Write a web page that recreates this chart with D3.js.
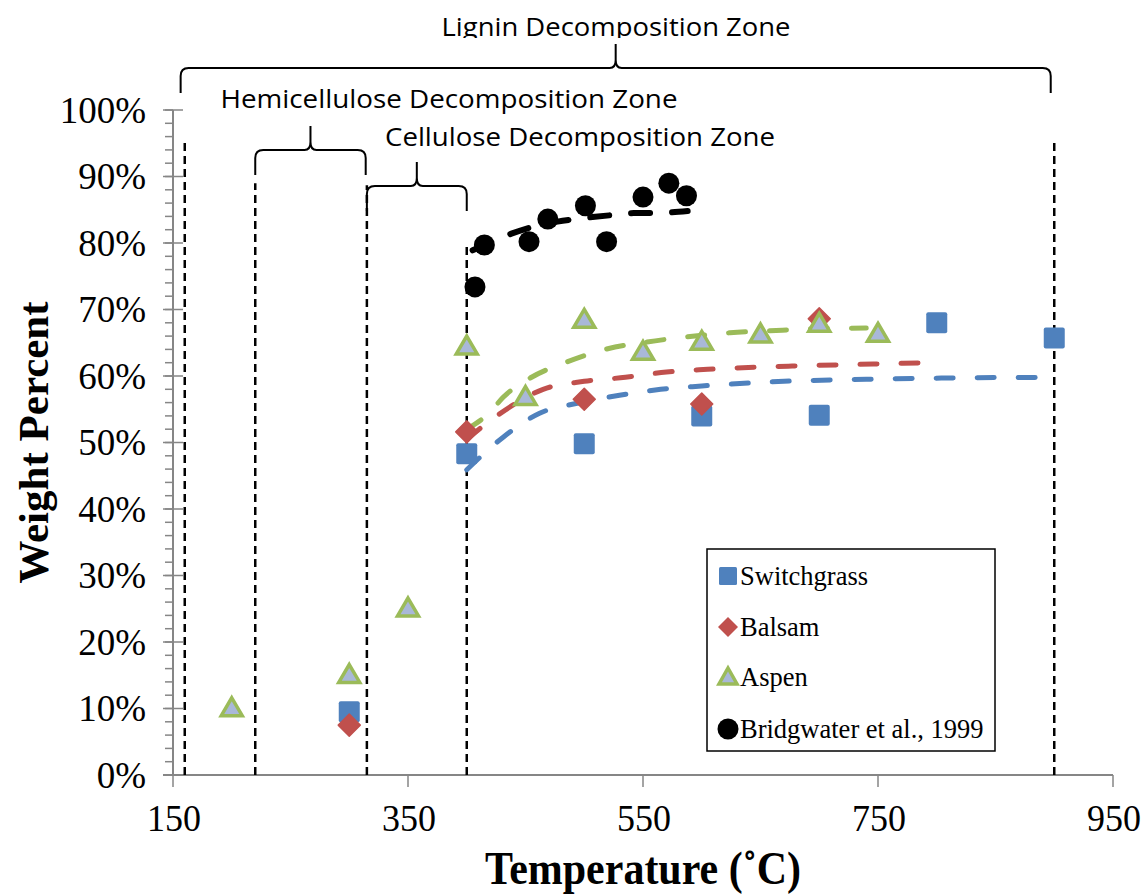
<!DOCTYPE html>
<html>
<head>
<meta charset="utf-8">
<script src="https://cdn.jsdelivr.net/npm/d3@7"></script>
<style>
  body { margin: 0; background: #fff; }
  svg { display: block; }
</style>
</head>
<body>
<svg id="chart"></svg>
<script>
// ---- data ----
const switchTemp = [300, 400, 500, 600, 700, 800, 900]
const switchPct = [0.095, 0.483, 0.498, 0.540, 0.541, 0.680, 0.657]

const balsamTemp = [300, 400, 500, 600, 700]
const balsamPct = [0.075, 0.516, 0.565, 0.558, 0.686]

const aspenTemp = [200, 300, 350, 400, 450, 500, 550, 600, 650, 700, 750]
const aspenPct = [0.10, 0.15, 0.25, 0.644, 0.568, 0.684, 0.636, 0.651, 0.662, 0.678, 0.663]

const bridgTemp = [407, 415, 453, 469, 501, 519, 550, 572, 587]
const bridgPct = [0.734, 0.797, 0.802, 0.836, 0.856, 0.802, 0.869, 0.890, 0.871]

// trend lines
const switchTrendTemp = [400, 431, 462, 494, 530, 565, 600, 670, 740, 810, 900]
const switchTrendPct = [0.459, 0.508, 0.544, 0.559, 0.571, 0.580, 0.585, 0.592, 0.595, 0.597, 0.598]
const balsamTrendTemp = [400, 428, 465, 500, 535, 570, 605, 677, 746, 790]
const balsamTrendPct = [0.505, 0.543, 0.580, 0.592, 0.598, 0.606, 0.610, 0.615, 0.618, 0.620]
const aspenTrendTemp = [400, 420, 431, 454, 485, 520, 553, 588, 624, 658, 695, 740]
const aspenTrendPct = [0.52, 0.546, 0.568, 0.597, 0.621, 0.641, 0.651, 0.659, 0.665, 0.668, 0.671, 0.672]
const bridgTrendTemp = [405, 438, 462, 488, 507, 524, 542, 559, 588]
const bridgTrendPct = [0.789, 0.814, 0.827, 0.835, 0.839, 0.842, 0.845, 0.845, 0.848]

// zone boundaries (dashed lines) and how high they reach
const zoneLineTemp = [160, 220, 315, 400, 900]
const zoneLineTop = [0.952, 0.89, 0.887, 0.797, 0.952]

const xTicks = [150, 350, 550, 750, 950]
const yTicks = [0, 0.1, 0.2, 0.3, 0.4, 0.5, 0.6, 0.7, 0.8, 0.9, 1.0]

const legendNames = ["Switchgrass", "Balsam", "Aspen", "Bridgwater et al., 1999"]

// ---- setup ----
const width = 1141
const height = 894
const svg = d3.select('#chart')
    .attr('width', width)
    .attr('height', height)

const x = d3.scaleLinear().domain([150, 950]).range([173, 1113])
const y = d3.scaleLinear().domain([0, 1]).range([775, 110])

const axisGrey = '#868686'
const serif = '"Liberation Serif", "Times New Roman", serif'
const sans = '"Open Sans", "Noto Sans", sans-serif'

// y axis: minor ticks every 2%
const yMinor = d3.range(0, 1.0001, 0.02)
svg.append('g').selectAll('line')
    .data(yMinor)
    .join('line')
    .attr('x1', x(150) - 8).attr('x2', x(150))
    .attr('y1', d => y(d)).attr('y2', d => y(d))
    .attr('stroke', axisGrey).attr('stroke-width', 1.5)

svg.append('g').selectAll('line')
    .data(yTicks)
    .join('line')
    .attr('x1', x(150) - 10).attr('x2', x(150) + 10)
    .attr('y1', d => y(d)).attr('y2', d => y(d))
    .attr('stroke', axisGrey).attr('stroke-width', 1.5)

svg.append('line')
    .attr('x1', x(150)).attr('x2', x(150))
    .attr('y1', y(0) + 1).attr('y2', y(1))
    .attr('stroke', axisGrey).attr('stroke-width', 2)

svg.append('g').selectAll('text')
    .data(yTicks)
    .join('text')
    .attr('x', x(150) - 27)
    .attr('y', d => y(d))
    .attr('dy', '0.35em')
    .attr('text-anchor', 'end')
    .attr('font-family', serif)
    .attr('font-size', 37)
    .text(d => d3.format('.0%')(d))

// x axis
svg.append('line')
    .attr('x1', x(150) - 10).attr('x2', x(950))
    .attr('y1', y(0)).attr('y2', y(0))
    .attr('stroke', axisGrey).attr('stroke-width', 2)

svg.append('g').selectAll('line')
    .data(xTicks)
    .join('line')
    .attr('x1', d => x(d)).attr('x2', d => x(d))
    .attr('y1', y(0)).attr('y2', y(0) + 12)
    .attr('stroke', axisGrey).attr('stroke-width', 1.5)

svg.append('g').selectAll('text')
    .data(xTicks)
    .join('text')
    .attr('transform', d => `translate(${x(d) + 1},831) scale(1,1.08)`)
    .attr('text-anchor', 'middle')
    .attr('font-family', serif)
    .attr('font-size', 36)
    .text(d => d)

// axis titles
svg.append('text')
    .attr('transform', `translate(48,${(y(0) + y(1)) / 2}) rotate(-90)`)
    .attr('text-anchor', 'middle')
    .attr('font-family', serif)
    .attr('font-weight', 'bold')
    .attr('font-size', 43)
    .text('Weight Percent')

svg.append('text')
    .attr('transform', `translate(${(x(150) + x(950)) / 2},884) scale(1,1.12)`)
    .attr('text-anchor', 'middle')
    .attr('font-family', serif)
    .attr('font-weight', 'bold')
    .attr('font-size', 42)
    .text('Temperature (˚C)')

// zone dashed lines
svg.append('g').selectAll('line')
    .data(zoneLineTemp)
    .join('line')
    .attr('x1', d => x(d)).attr('x2', d => x(d))
    .attr('y1', y(0)).attr('y2', (d, i) => y(zoneLineTop[i]))
    .attr('stroke', '#000').attr('stroke-width', 2.5)
    .attr('stroke-dasharray', '8,5')

// curly braces above the plot
function bracePath(x0, x1, yb, drop, tip) {
    const xm = (x0 + x1) / 2
    const r = 8
    return `M${x0},${yb + drop} L${x0},${yb + r} Q${x0},${yb} ${x0 + r},${yb}` +
        ` L${xm - 6},${yb} Q${xm},${yb} ${xm},${yb - 8} L${xm},${yb - tip}` +
        ` M${xm},${yb - 8} Q${xm},${yb} ${xm + 6},${yb}` +
        ` L${x1 - r},${yb} Q${x1},${yb} ${x1},${yb + r} L${x1},${yb + drop}`
}

const braces = [
    { from: 156.5, to: 897, yb: 68, label: 'Lignin Decomposition Zone', ty: 36, tx: 616, tw: 349 },
    { from: 220, to: 314, yb: 150, label: 'Hemicellulose Decomposition Zone', ty: 108, tx: 449, tw: 457 },
    { from: 315, to: 400, yb: 186, label: 'Cellulose Decomposition Zone', ty: 146, tx: 580, tw: 390 }
]

// the top label is cut off just under its baseline in the original
svg.append('clipPath').attr('id', 'topClip')
    .append('rect').attr('x', 0).attr('y', 0).attr('width', width).attr('height', 38)

svg.append('g').selectAll('path')
    .data(braces)
    .join('path')
    .attr('d', d => bracePath(x(d.from), x(d.to), d.yb, 25, 24))
    .attr('fill', 'none')
    .attr('stroke', '#000')
    .attr('stroke-width', 2)

svg.append('g').selectAll('text')
    .data(braces)
    .join('text')
    .attr('x', d => d.tx)
    .attr('y', d => d.ty)
    .attr('clip-path', (d, i) => i === 0 ? 'url(#topClip)' : null)
    .attr('text-anchor', 'middle')
    .attr('font-family', sans)
    .attr('font-size', 25)
    .attr('textLength', d => d.tw)
    .attr('lengthAdjust', 'spacingAndGlyphs')
    .text(d => d.label)

// trend lines
const line = d3.line()
    .x(d => x(d[0]))
    .y(d => y(d[1]))
    .curve(d3.curveMonotoneX)

const trends = [
    { t: switchTrendTemp, p: switchTrendPct, color: '#4f81bd', w: 5, dash: '17,24' },
    { t: balsamTrendTemp, p: balsamTrendPct, color: '#c0504d', w: 5, dash: '17,24' },
    { t: aspenTrendTemp, p: aspenTrendPct, color: '#9bbb59', w: 5, dash: '17,24' },
    { t: bridgTrendTemp, p: bridgTrendPct, color: '#000', w: 6, dash: '19,22' }
]

svg.append('g').selectAll('path')
    .data(trends)
    .join('path')
    .attr('d', d => line(d.t.map((v, i) => [v, d.p[i]])))
    .attr('fill', 'none')
    .attr('stroke', d => d.color)
    .attr('stroke-width', d => d.w)
    .attr('stroke-linecap', 'round')
    .attr('stroke-dasharray', d => d.dash)

// markers
function drawSquares(g, temps, pcts, size) {
    g.selectAll('rect')
        .data(temps.map((v, i) => [v, pcts[i]]))
        .join('rect')
        .attr('x', d => x(d[0]) - size / 2)
        .attr('y', d => y(d[1]) - size / 2)
        .attr('width', size).attr('height', size)
        .attr('rx', 2)
        .attr('fill', '#4f81bd')
}

function drawDiamonds(g, temps, pcts, r) {
    g.selectAll('path')
        .data(temps.map((v, i) => [v, pcts[i]]))
        .join('path')
        .attr('d', `M0,${-r} L${r},0 L0,${r} L${-r},0 Z`)
        .attr('transform', d => `translate(${x(d[0])},${y(d[1])})`)
        .attr('fill', '#c0504d')
        .attr('stroke', '#c0504d')
        .attr('stroke-linejoin', 'round')
        .attr('stroke-width', 1.5)
}

function drawTriangles(g, temps, pcts, r) {
    const h = r * 1.7
    g.selectAll('path')
        .data(temps.map((v, i) => [v, pcts[i]]))
        .join('path')
        .attr('d', `M0,${-h * 0.6} L${r},${h * 0.4} L${-r},${h * 0.4} Z`)
        .attr('transform', d => `translate(${x(d[0])},${y(d[1])})`)
        .attr('fill', '#a9b8d8')
        .attr('stroke', '#9bbb59')
        .attr('stroke-width', 3.5)
        .attr('stroke-linejoin', 'miter')
}

function drawCircles(g, temps, pcts, r) {
    g.selectAll('circle')
        .data(temps.map((v, i) => [v, pcts[i]]))
        .join('circle')
        .attr('cx', d => x(d[0]))
        .attr('cy', d => y(d[1]))
        .attr('r', r)
        .attr('fill', '#000')
}

drawSquares(svg.append('g'), switchTemp, switchPct, 21)
drawDiamonds(svg.append('g'), balsamTemp, balsamPct, 11)
drawTriangles(svg.append('g'), aspenTemp, aspenPct, 10.5)
drawCircles(svg.append('g'), bridgTemp, bridgPct, 10.5)

// legend
const legend = svg.append('g').attr('transform', 'translate(707,549)')
legend.append('rect')
    .attr('width', 288).attr('height', 202)
    .attr('fill', '#fff')
    .attr('stroke', '#000')
    .attr('stroke-width', 1.5)

const legendY = [27, 78, 128, 180]
const items = legend.selectAll('g.item')
    .data(legendNames)
    .join('g')
    .attr('class', 'item')
    .attr('transform', (d, i) => `translate(0,${legendY[i]})`)

items.append('text')
    .attr('x', 33)
    .attr('y', 0)
    .attr('dy', '0.35em')
    .attr('font-family', serif)
    .attr('font-size', 26.5)
    .text(d => d)

const lx = 21
legend.append('rect')
    .attr('x', lx - 9).attr('y', legendY[0] - 9)
    .attr('width', 18).attr('height', 18)
    .attr('rx', 1.5)
    .attr('fill', '#4f81bd')
legend.append('path')
    .attr('d', 'M0,-10 L10,0 L0,10 L-10,0 Z')
    .attr('transform', `translate(${lx},${legendY[1]})`)
    .attr('fill', '#c0504d')
legend.append('path')
    .attr('d', 'M0,-9 L9,7 L-9,7 Z')
    .attr('transform', `translate(${lx},${legendY[2]})`)
    .attr('fill', '#a9b8d8')
    .attr('stroke', '#9bbb59')
    .attr('stroke-width', 3.5)
legend.append('circle')
    .attr('cx', lx).attr('cy', legendY[3])
    .attr('r', 10.5)
    .attr('fill', '#000')
</script>
</body>
</html>
